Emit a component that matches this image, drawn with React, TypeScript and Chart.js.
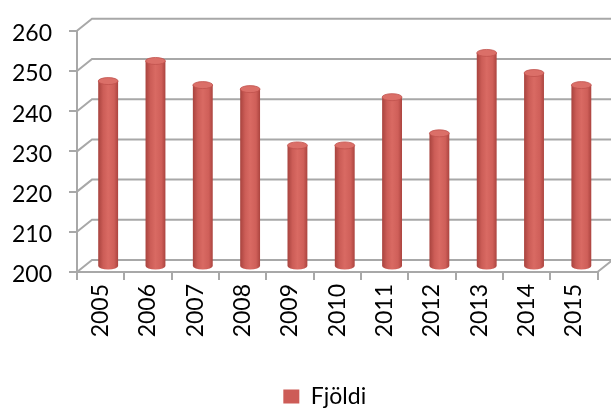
import React, { useEffect, useRef } from "react";
import { Chart, registerables } from "chart.js";

Chart.register(...registerables);

const years = ["2005", "2006", "2007", "2008", "2009", "2010", "2011", "2012", "2013", "2014", "2015"];
const fjoldi = [246, 251, 245, 244, 230, 230, 242, 233, 253, 248, 245];
const seriesLabel = "Fjöldi";
const yMin = 200;
const yMax = 260;
const yStep = 10;

const GRID = "#a8a8a8";
const FONT = "Lato";
const FONT_SIZE = 23;
const DX = 15;
const DY = -12;

const wall3d = {
  id: "wall3d",
  afterLayout(chart: any) {
    const lg = chart.legend;
    if (lg) {
      lg.left += 26;
      lg.right += 26;
    }
  },
  beforeDatasetsDraw(chart: any) {
    const { ctx, chartArea, scales } = chart;
    const y = scales.y;
    ctx.save();
    ctx.strokeStyle = GRID;
    ctx.lineWidth = 2;
    ctx.beginPath();
    for (const t of y.ticks) {
      const py = y.getPixelForValue(t.value);
      ctx.moveTo(chartArea.left, py);
      ctx.lineTo(chartArea.left + DX, py + DY);
      ctx.lineTo(chart.width + 20, py + DY);
    }
    ctx.moveTo(chartArea.right, chartArea.bottom);
    ctx.lineTo(chartArea.right + DX, chartArea.bottom + DY);
    ctx.stroke();
    ctx.restore();
  },
  beforeDatasetDraw() {
    return false;
  },
  afterDatasetsDraw(chart: any) {
    const { ctx, scales } = chart;
    const meta = chart.getDatasetMeta(0);
    const basePx = scales.y.getPixelForValue(yMin);
    ctx.save();
    for (const el of meta.data) {
      const cx = el.x + DX / 2;
      const ty = el.y + DY / 2;
      const by = basePx + DY / 2;
      const w = el.width / 2;
      const ry = 3.5;
      const g = ctx.createLinearGradient(cx - w, 0, cx + w, 0);
      g.addColorStop(0, "#a8433e");
      g.addColorStop(0.25, "#cc5d57");
      g.addColorStop(0.5, "#d96a63");
      g.addColorStop(0.8, "#cf5f59");
      g.addColorStop(1, "#ab443f");
      ctx.beginPath();
      ctx.moveTo(cx - w, ty);
      ctx.lineTo(cx - w, by);
      ctx.ellipse(cx, by, w, ry, 0, Math.PI, 0, true);
      ctx.lineTo(cx + w, ty);
      ctx.closePath();
      ctx.fillStyle = g;
      ctx.fill();
      ctx.beginPath();
      ctx.ellipse(cx, ty, w, ry, 0, 0, Math.PI * 2);
      ctx.fillStyle = "#db6f68";
      ctx.fill();
      ctx.strokeStyle = "#c0524c";
      ctx.lineWidth = 0.8;
      ctx.stroke();
    }
    ctx.restore();
  },
};

export default function App() {
  const ref = useRef<HTMLCanvasElement>(null);
  useEffect(() => {
    document.body.style.margin = "0";
    const canvas = ref.current;
    if (!canvas) return;
    const chart = new Chart(canvas, {
      type: "bar",
      data: {
        labels: years,
        datasets: [
          {
            label: seriesLabel,
            data: fjoldi,
            backgroundColor: "#cd5c57",
            borderWidth: 0,
            categoryPercentage: 1,
            barPercentage: 0.42,
          },
        ],
      },
      options: {
        animation: false,
        responsive: false,
        layout: { padding: { top: 27, right: 13.5, bottom: -6, left: 0 } },
        plugins: {
          tooltip: { enabled: false },
          legend: {
            position: "bottom",
            labels: {
              boxWidth: 16,
              boxHeight: 14,
              padding: 10,
              color: "#000",
              font: { family: FONT, size: FONT_SIZE },
            },
          },
        },
        scales: {
          x: {
            afterFit: (s: any) => {
              s.height = 103;
            },
            grid: {
              drawOnChartArea: false,
              drawTicks: true,
              tickLength: 8,
              color: GRID,
              lineWidth: 2,
              offset: true,
            },
            border: { display: true, color: GRID, width: 2 },
            ticks: {
              minRotation: 90,
              maxRotation: 90,
              autoSkip: false,
              padding: 4,
              color: "#000",
              font: { family: FONT, size: FONT_SIZE },
            },
          },
          y: {
            min: yMin,
            max: yMax,
            afterFit: (s: any) => {
              s.width = 77;
            },
            grid: {
              drawOnChartArea: false,
              drawTicks: true,
              tickLength: 8,
              color: GRID,
              lineWidth: 2,
            },
            border: { display: true, color: GRID, width: 2 },
            ticks: {
              stepSize: yStep,
              padding: 17,
              labelOffset: 3,
              color: "#000",
              font: { family: FONT, size: FONT_SIZE },
            },
          },
        },
      },
      plugins: [wall3d],
    });
    return () => chart.destroy();
  }, []);
  return (
    <div style={{ width: 611, height: 412 }}>
      <canvas ref={ref} width={611} height={412} />
    </div>
  );
}
